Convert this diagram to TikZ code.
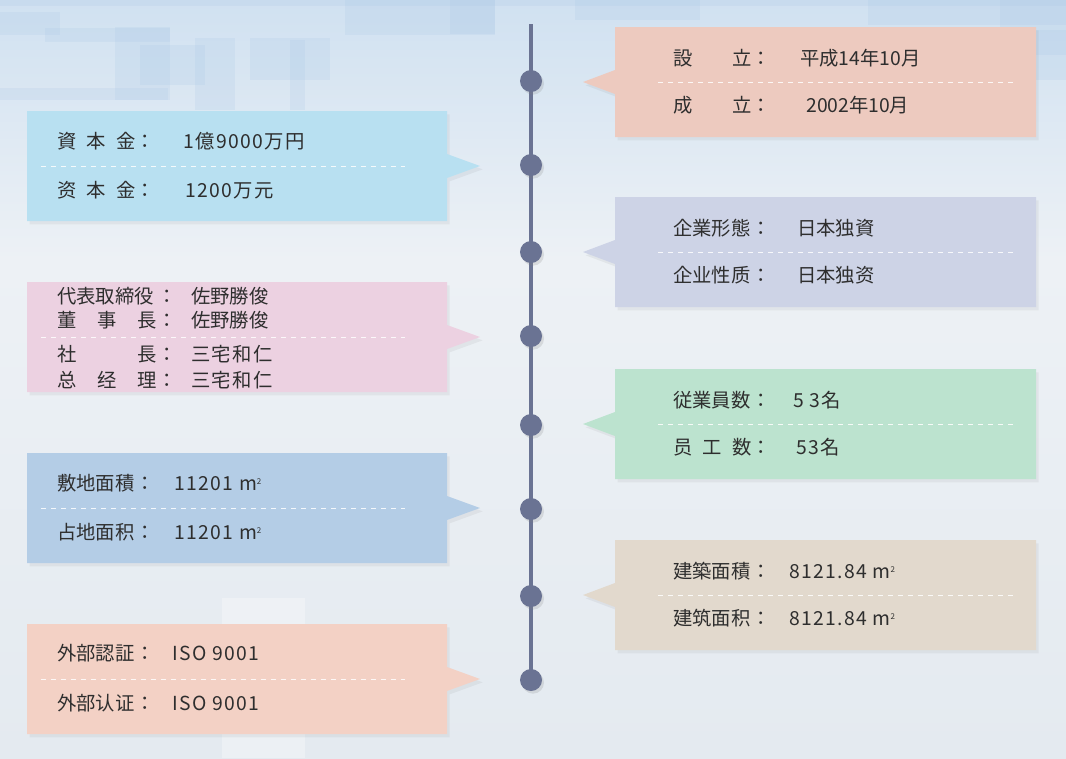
\documentclass[tikz,border=0pt]{standalone}
\usepackage{fontspec}
\usetikzlibrary{shadows}
\newfontfamily\jpfont{Noto Sans CJK JP}
\newfontfamily\jpnum[LetterSpace=7]{Noto Sans CJK JP}
\definecolor{spinecol}{HTML}{6A7393}
\definecolor{textcol}{HTML}{2E2E2E}
\definecolor{bgtop}{HTML}{D0E1F1}
\definecolor{bgmid}{HTML}{EDF1F5}
\definecolor{bgbot}{HTML}{E4EAF0}
\definecolor{decocol}{HTML}{A9C7E6}
\definecolor{cardsalmon}{HTML}{EDCABF}
\definecolor{cardlilac}{HTML}{CDD3E6}
\definecolor{cardgreen}{HTML}{BCE3CF}
\definecolor{cardsand}{HTML}{E2D9CD}
\definecolor{cardsky}{HTML}{B8E0F1}
\definecolor{cardpink}{HTML}{ECD1E1}
\definecolor{cardblue}{HTML}{B4CDE6}
\definecolor{cardpeach}{HTML}{F3D1C5}
\newcommand{\sqm}{m{\fontsize{6pt}{6pt}\selectfont\raisebox{1.3ex}{2}}}
\newcommand{\lw}[1]{\makebox[59pt][s]{#1}：}
\newcommand{\lww}[1]{\makebox[75pt][s]{#1}：}
% card on the right of the spine, pointer to the left
\newcommand{\rcard}[2]{%
  \fill[#2, cardshadow] (615,#1) -- (1036,#1) -- (1036,#1+110) -- (615,#1+110)
    -- (615,#1+67) -- (583,#1+55) -- (615,#1+43) -- cycle;
  \draw[sep] (658,#1+55) -- (1015,#1+55);}
% card on the left of the spine, pointer to the right
\newcommand{\lcard}[2]{%
  \fill[#2, cardshadow] (27,#1) -- (447,#1) -- (447,#1+43) -- (480,#1+55)
    -- (447,#1+67) -- (447,#1+110) -- (27,#1+110) -- cycle;
  \draw[sep] (41,#1+55) -- (405,#1+55);}
\tikzset{
  cardshadow/.style={drop shadow={opacity=0.1, shadow xshift=2pt, shadow yshift=-2.5pt}},
  sep/.style={white, opacity=0.85, line width=0.6pt, dash pattern=on 4pt off 3.5pt},
  lbl/.style={anchor=base west, inner sep=0pt, text=textcol,
    font=\jpfont\fontsize{14.5pt}{17pt}\selectfont},
  val/.style={lbl, font=\jpnum\fontsize{14.5pt}{17pt}\selectfont},
  dot/.style={circle, fill=spinecol, minimum size=16.5pt, inner sep=0pt,
    drop shadow={opacity=0.2, shadow xshift=1.5pt, shadow yshift=-2pt}},
  spine/.style={spinecol, line width=3pt},
}
\begin{document}
\begin{tikzpicture}[x=0.75pt, y=-0.75pt]
\useasboundingbox (0,0) rectangle (1066,758);
% background
\shade[top color=bgtop, bottom color=bgmid] (0,0) rectangle (1066,260);
\shade[top color=bgmid, bottom color=bgbot] (0,260) rectangle (1066,758);
\begin{scope}[fill=decocol, opacity=0.2]
  \fill (0,0) rectangle (1066,6);
  \fill (0,12) rectangle (60,35);
  \fill (45,28) rectangle (170,42);
  \fill (115,27) rectangle (170,100);
  \fill (0,88) rectangle (168,100);
  \fill (140,45) rectangle (205,85);
  \fill (195,38) rectangle (235,110);
  \fill (250,38) rectangle (330,80);
  \fill (290,40) rectangle (305,110);
  \fill (345,0) rectangle (495,35);
  \fill (450,0) rectangle (495,34);
  \fill (575,0) rectangle (700,20);
  \fill (868,0) rectangle (1066,25);
  \fill (900,30) rectangle (1066,55);
  \fill (1000,0) rectangle (1066,80);
\end{scope}
\fill[white, opacity=0.3] (222,598) rectangle (305,758);
% cards
\rcard{27}{cardsalmon}
\rcard{197}{cardlilac}
\rcard{369}{cardgreen}
\rcard{540}{cardsand}
\lcard{111}{cardsky}
\lcard{282}{cardpink}
\lcard{453}{cardblue}
\lcard{624}{cardpeach}
% spine and dots
\coordinate (linetop) at (531,24);
\foreach \y [count=\i] in {81,165,252,336,425,509,596,680}
  \coordinate (p\i) at (531,\y);
\draw[spine] (linetop) -- (p8);
\foreach \i in {1,...,8}
  \node[dot] (d\i) at (p\i) {};
% right texts
\node[lbl] (estab) at (673,65) {\lw{設\hfill 立}};
\node[lbl] (estabjp) at (800,65) {平成14年10月};
\node[lbl] (found) at (673,112) {\lw{成\hfill 立}};
\node[lbl] (foundcn) at (806,112) {2002年10月};
\node[lbl] (form) at (673,235) {\lw{企業形態}};
\node[lbl] (formjp) at (797,235) {日本独資};
\node[lbl] (nature) at (673,282) {\lw{企业性质}};
\node[lbl] (naturecn) at (797,282) {日本独资};
\node[lbl] (staff) at (673,407) {\lw{従業員数}};
\node[val] (staffjp) at (793,407) {5\hspace{4pt}3名};
\node[lbl] (staffcn) at (673,454) {\lw{员\hfill 工\hfill 数}};
\node[val] (staffnum) at (796,454) {53名};
\node[lbl] (floor) at (673,578) {\lw{建築面積}};
\node[val] (floorjp) at (789,578) {8121.84 \sqm};
\node[lbl] (floorcn) at (673,625) {\lw{建筑面积}};
\node[val] (floornum) at (789,625) {8121.84 \sqm};
% left texts
\node[lbl] (capital) at (57,148) {\lw{資\hfill 本\hfill 金}};
\node[val] (capitaljp) at (183,148) {1億9000万円};
\node[lbl] (capitalcn) at (57,197) {\lw{资\hfill 本\hfill 金}};
\node[val] (capitalnum) at (185,197) {1200万元};
\node[lbl] (rep) at (57,303) {\lww{代表取締役}};
\node[lbl] (repname) at (191,303) {佐野勝俊};
\node[lbl] (chair) at (57,327) {\lww{董\hfill 事\hfill 長}};
\node[lbl] (chairname) at (191,327) {佐野勝俊};
\node[lbl] (pres) at (57,361) {\lww{社\hfill 長}};
\node[val] (presname) at (191,361) {三宅和仁};
\node[lbl] (gm) at (57,387) {\lww{总\hfill 经\hfill 理}};
\node[val] (gmname) at (191,387) {三宅和仁};
\node[lbl] (site) at (57,490) {\lw{敷地面積}};
\node[val] (sitejp) at (174,490) {11201 \sqm};
\node[lbl] (sitecn) at (57,539) {\lw{占地面积}};
\node[val] (sitenum) at (174,539) {11201 \sqm};
\node[lbl] (cert) at (57,660) {\lw{外部認証}};
\node[val] (certjp) at (172,660) {ISO 9001};
\node[lbl] (certcn) at (57,710) {\lw{外部认证}};
\node[val] (certnum) at (172,710) {ISO 9001};
\end{tikzpicture}
\end{document}
